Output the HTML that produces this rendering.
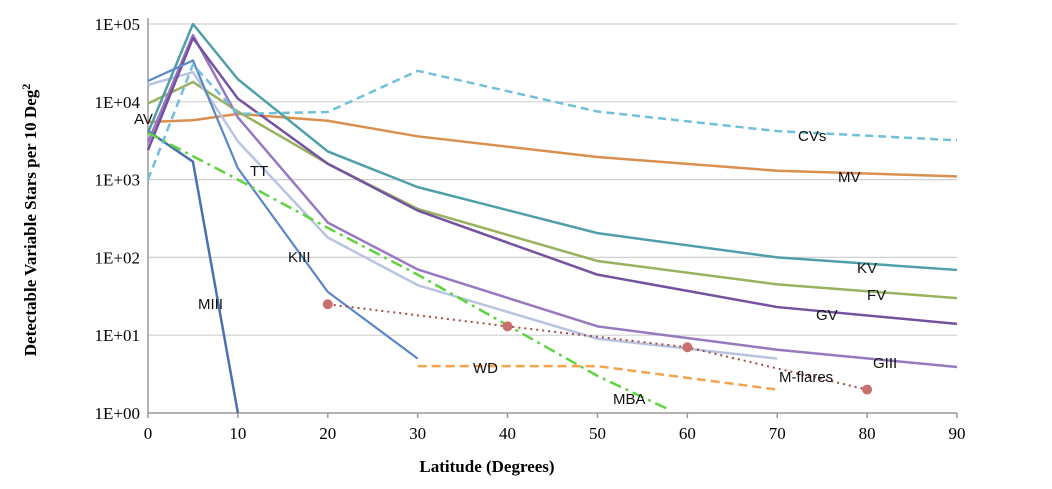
<!DOCTYPE html>
<html><head><meta charset="utf-8"><style>
body{margin:0;background:#fff;width:1052px;height:484px;overflow:hidden}
svg text{font-family:"Liberation Serif",serif}
.lbl{font-family:"Liberation Sans",sans-serif;font-size:15px;fill:#111}
</style></head><body>
<svg id="chart" width="1052" height="484" xmlns="http://www.w3.org/2000/svg"></svg>
<script>
const xTicks=[0,10,20,30,40,50,60,70,80,90];
const yTickLabels=["1E+00","1E+01","1E+02","1E+03","1E+04","1E+05"];
const cvX=[0,5,10,20,30,50,70,90], cvY=[1000,30000,7000,7400,25000,7500,4200,3200];
const mvX=[0,5,10,20,30,50,70,90], mvY=[5500,5800,7000,5700,3600,1950,1300,1100];
const kvX=[0,5,10,20,30,50,70,90], kvY=[4000,100000,19500,2300,800,205,100,69];
const fvX=[0,5,10,20,30,50,70,90], fvY=[9500,18000,7500,1600,420,90,45,30];
const gvX=[0,5,10,20,30,50,70,90], gvY=[2400,66000,11000,1600,400,60,23,14];
const giiiX=[0,5,10,20,30,50,70,90], giiiY=[3000,72000,6300,280,70,13,6.5,3.9];
const ttX=[0,5,10,20,30,50,70], ttY=[16500,24000,3100,180,44,9,5];
const kiiiX=[0,5,10,20,30], kiiiY=[18500,34000,1400,36,5];
const miiiX=[0,5,10], miiiY=[4200,1700,1];
const mbaX=[0,10,20,30,50,58], mbaY=[4000,1000,240,60,3,1.1];
const wdX=[30,50,70], wdY=[4,4,2];
const mfX=[20,40,60,80], mfY=[25,13,7,2];
const X0=148,X1=957,Y0=413,DEC=77.8;
const sx=v=>X0+(X1-X0)*v/90;
const sy=v=>Y0-Math.log10(v)*DEC;
const svg=document.getElementById('chart');
const NS="http://www.w3.org/2000/svg";
function mk(t,a,p){const e=document.createElementNS(NS,t);for(const k in a)e.setAttribute(k,a[k]);(p||svg).appendChild(e);return e;}
// grid & y labels
yTickLabels.forEach((l,i)=>{const y=Y0-i*DEC;
 if(i>0){const g=mk('line',{x1:X0,x2:X1,y1:y,y2:y,stroke:'#d0d0d0','stroke-width':1.2});
 
 }
 const t=mk('text',{x:140,y:y+6,'text-anchor':'end','font-size':17});t.textContent=l;
 
 
});
const ya=mk('line',{x1:X0,x2:X0,y1:18,y2:Y0,stroke:'#999','stroke-width':1.5});


const xa=mk('line',{x1:X0,x2:X1,y1:Y0,y2:Y0,stroke:'#999','stroke-width':1.5});


xTicks.forEach(v=>{const x=sx(v);
 mk('line',{x1:x,x2:x,y1:Y0,y2:Y0+5,stroke:'#999','stroke-width':1.5});
 const t=mk('text',{x:x,y:Y0+26,'text-anchor':'middle','font-size':17});t.textContent=v;
 
 
});
const xt=mk('text',{x:487,y:472,'text-anchor':'middle','font-size':17,'font-weight':'bold'});xt.textContent='Latitude (Degrees)';


const yt=mk('text',{x:0,y:0,'text-anchor':'middle','font-size':17,'font-weight':'bold',transform:'translate(36,220) rotate(-90)'});
yt.innerHTML='Detectable Variable Stars per 10 Deg<tspan dy="-6" font-size="12">2</tspan>';


function series(name,xs,ys,color,w,dash){
 const p=mk('polyline',{points:xs.map((x,i)=>sx(x)+','+sy(ys[i])).join(' '),fill:'none',stroke:color,'stroke-width':w,'stroke-dasharray':dash||'none','stroke-linejoin':'round'});
 
 
}
series('series-mv',mvX,mvY,'#d9904f',2.5);
series('series-fv',fvX,fvY,'#98b25e',2.5);
series('series-tt',ttX,ttY,'#b8c4e0',2.5);
series('series-giii',giiiX,giiiY,'#9878bf',2.5);
series('series-gv',gvX,gvY,'#7552a0',2.5);
series('series-kv',kvX,kvY,'#4f9fab',2.5);
series('series-kiii',kiiiX,kiiiY,'#5b87c5',2.2);
series('series-miii',miiiX,miiiY,'#4a70b0',2.5);
series('series-cvs',cvX,cvY,'#6fc0d8',2.5,'8,5');
series('series-mba',mbaX,mbaY,'#5fd43f',2.5,'12,5,3,5');
series('series-wd',wdX,wdY,'#f3a44f',2.5,'9,5');
series('series-m-flares',mfX,mfY,'#a04c48',2,'2,4');
mfX.forEach((x,i)=>{const c=mk('circle',{cx:sx(x),cy:sy(mfY[i]),r:5,fill:'#c9706c'});
 
 });
const labels=[['AV',134,124],['TT',250,176],['KIII',288,262],['MIII',198,309],['CVs',798,141],['MV',838,182],['KV',857,273],['FV',867,300],['GV',816,320],['GIII',873,368],['WD',473,373],['M-flares',779,382],['MBA',613,404]];
labels.forEach(l=>{const t=mk('text',{x:l[1],y:l[2],class:'lbl'});t.textContent=l[0];
 
 });
</script>
</body></html>
